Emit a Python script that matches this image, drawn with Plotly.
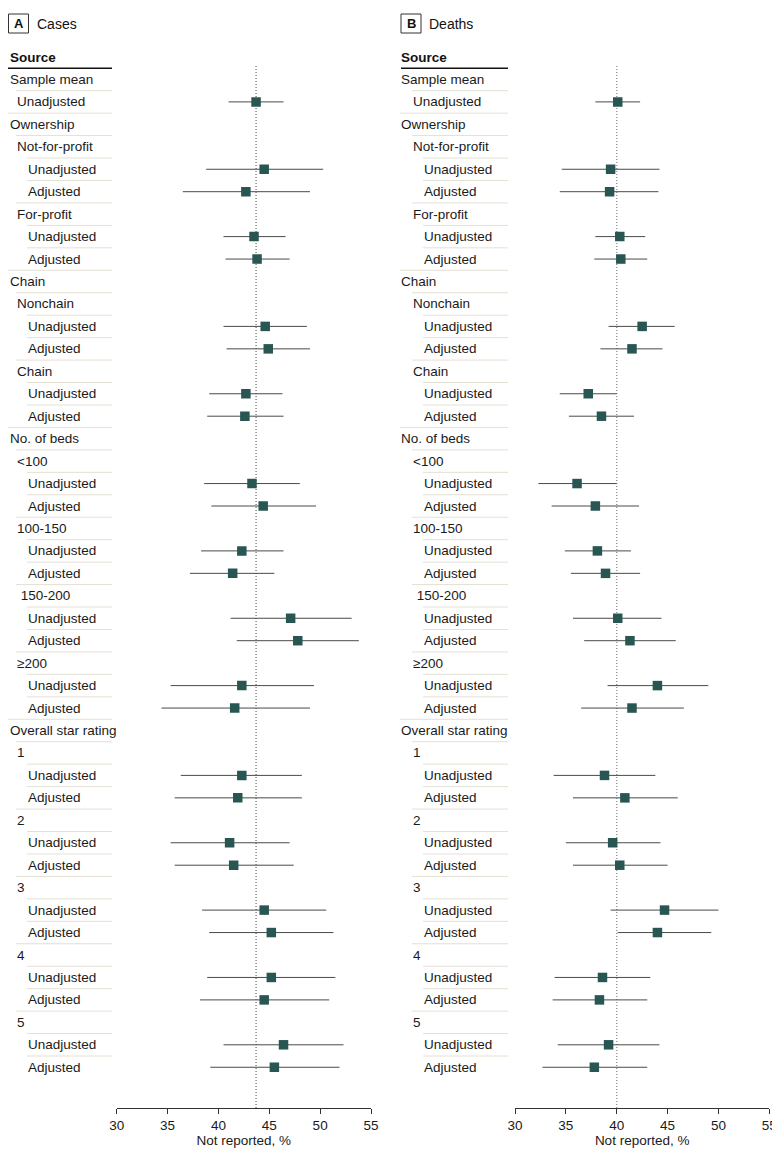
import plotly.graph_objects as go

# ---------------- data ----------------
row_labels = [
    "Sample mean", "Unadjusted",
    "Ownership", "Not-for-profit", "Unadjusted", "Adjusted", "For-profit", "Unadjusted", "Adjusted",
    "Chain", "Nonchain", "Unadjusted", "Adjusted", "Chain", "Unadjusted", "Adjusted",
    "No. of beds", "<100", "Unadjusted", "Adjusted", "100-150", "Unadjusted", "Adjusted",
    " 150-200", "Unadjusted", "Adjusted", "≥200", "Unadjusted", "Adjusted",
    "Overall star rating", "1", "Unadjusted", "Adjusted", "2", "Unadjusted", "Adjusted",
    "3", "Unadjusted", "Adjusted", "4", "Unadjusted", "Adjusted", "5", "Unadjusted", "Adjusted",
]
row_levels = [
    0, 1,
    0, 1, 2, 2, 1, 2, 2,
    0, 1, 2, 2, 1, 2, 2,
    0, 1, 2, 2, 1, 2, 2, 1, 2, 2, 1, 2, 2,
    0, 1, 2, 2, 1, 2, 2, 1, 2, 2, 1, 2, 2, 1, 2, 2,
]
N = None
cases_est = [N, 43.7, N, N, 44.5, 42.7, N, 43.5, 43.8, N, N, 44.6, 44.9, N, 42.7, 42.6,
             N, N, 43.3, 44.4, N, 42.3, 41.4, N, 47.1, 47.8, N, 42.3, 41.6,
             N, N, 42.3, 41.9, N, 41.1, 41.5, N, 44.5, 45.2, N, 45.2, 44.5, N, 46.4, 45.5]
cases_lo = [N, 41.0, N, N, 38.8, 36.5, N, 40.5, 40.7, N, N, 40.5, 40.8, N, 39.1, 38.9,
            N, N, 38.6, 39.3, N, 38.3, 37.2, N, 41.2, 41.8, N, 35.3, 34.4,
            N, N, 36.3, 35.7, N, 35.3, 35.7, N, 38.4, 39.1, N, 38.9, 38.2, N, 40.5, 39.2]
cases_hi = [N, 46.4, N, N, 50.3, 49.0, N, 46.6, 47.0, N, N, 48.7, 49.0, N, 46.3, 46.4,
            N, N, 48.0, 49.6, N, 46.4, 45.5, N, 53.1, 53.8, N, 49.4, 49.0,
            N, N, 48.2, 48.2, N, 47.0, 47.4, N, 50.6, 51.3, N, 51.5, 50.9, N, 52.3, 51.9]

deaths_est = [N, 40.1, N, N, 39.4, 39.3, N, 40.3, 40.4, N, N, 42.5, 41.5, N, 37.2, 38.5,
              N, N, 36.1, 37.9, N, 38.1, 38.9, N, 40.1, 41.3, N, 44.0, 41.5,
              N, N, 38.8, 40.8, N, 39.6, 40.3, N, 44.7, 44.0, N, 38.6, 38.3, N, 39.2, 37.8]
deaths_lo = [N, 37.9, N, N, 34.6, 34.4, N, 37.9, 37.8, N, N, 39.2, 38.4, N, 34.4, 35.3,
             N, N, 32.3, 33.6, N, 34.9, 35.5, N, 35.7, 36.8, N, 39.1, 36.5,
             N, N, 33.8, 35.7, N, 35.0, 35.7, N, 39.4, 40.1, N, 33.9, 33.7, N, 34.2, 32.7]
deaths_hi = [N, 42.3, N, N, 44.2, 44.1, N, 42.8, 43.0, N, N, 45.7, 44.5, N, 40.0, 41.7,
             N, N, 40.0, 42.2, N, 41.4, 42.3, N, 44.4, 45.8, N, 49.0, 46.6,
             N, N, 43.8, 46.0, N, 44.3, 45.0, N, 50.0, 49.3, N, 43.3, 43.0, N, 44.2, 43.0]

cases_ref = 43.7
deaths_ref = 40.0
x_ticks = [30, 35, 40, 45, 50, 55]
panel_letters = ["A", "B"]
panel_titles = ["Cases", "Deaths"]
axis_title = "Not reported, %"
header_text = "Source"

# ---------------- styling / geometry ----------------
PAGE_OFF = 8          # default body margin of the html page
W, H = 780 - PAGE_OFF, 1160 - 2 * PAGE_OFF
FONT = "Liberation Sans"
ROW0_PX = 57.0        # page y of the "Source" row
ROW_PX = 22.45
AXIS_PX = 1108.0      # page y of x axis line
MARKER = "#285753"
SEP = "#e3e0d3"
TXT_SHIFT = 2         # annotation inner padding


def ry(py):
    return (py - ROW0_PX) / ROW_PX


def px(x):
    return max((x - PAGE_OFF) / W, 0.0)


indent_px = {0: 5, 1: 17, 2: 28}
panels = [
    dict(off=0, est=cases_est, lo=cases_lo, hi=cases_hi, ref=cases_ref, xa="x",
         dom=[px(116.7), px(371.0)], refcolor="#444", refw=1, box=8.5),
    dict(off=396, est=deaths_est, lo=deaths_lo, hi=deaths_hi, ref=deaths_ref, xa="x2",
         dom=[px(515.0), px(769.3)], refcolor="#9a9a9a", refw=1.5, box=401),
]

fig = go.Figure()
annotations = []
shapes = []

for pi, p in enumerate(panels):
    ys = [i + 1 for i in range(len(row_labels))]
    xs, yy, ep, em = [], [], [], []
    for y, e, l, h in zip(ys, p["est"], p["lo"], p["hi"]):
        if e is None:
            continue
        xs.append(e)
        yy.append(y)
        ep.append(h - e)
        em.append(e - l)

    off = p["off"]
    # reference dotted line (drawn below data)
    shapes.append(dict(type="line", xref=p["xa"], yref="y", layer="below",
                       x0=p["ref"], x1=p["ref"], y0=ry(66), y1=ry(AXIS_PX),
                       line=dict(color=p["refcolor"], width=p["refw"], dash="1px,2px")))

    fig.add_trace(go.Scatter(
        x=xs, y=yy, xaxis=p["xa"], yaxis="y", mode="markers",
        marker=dict(symbol="square", size=9.5, color=MARKER, line=dict(width=0)),
        error_x=dict(type="data", symmetric=False, array=ep, arrayminus=em,
                     width=0, color="#4a4a4a", thickness=1),
        hoverinfo="skip", showlegend=False,
    ))

    # panel letter box + title
    bx = p["box"]
    shapes.append(dict(type="rect", xref="paper", yref="y",
                       x0=px(bx), x1=px(bx + 20), y0=ry(14), y1=ry(33),
                       line=dict(color="#333", width=1), fillcolor="rgba(0,0,0,0)"))
    annotations.append(dict(text="<b>" + panel_letters[pi] + "</b>", xref="paper", yref="y",
                            x=px(bx + 10), y=ry(23.5), xanchor="center", yanchor="middle",
                            showarrow=False, font=dict(family=FONT, size=13, color="#111")))
    annotations.append(dict(text=panel_titles[pi], xref="paper", yref="y",
                            x=px(bx + 28 - TXT_SHIFT), y=ry(23.5), xanchor="left", yanchor="middle",
                            showarrow=False, font=dict(family=FONT, size=14, color="#111")))
    # header
    annotations.append(dict(text="<b>" + header_text + "</b>", xref="paper", yref="y",
                            x=px(off + 5 - TXT_SHIFT), y=0, xanchor="left", yanchor="middle",
                            showarrow=False, font=dict(family=FONT, size=13.5, color="#111")))
    shapes.append(dict(type="line", xref="paper", yref="y",
                       x0=px(off + 5), x1=px(off + 112), y0=0.5, y1=0.5,
                       line=dict(color="#111", width=1.5)))
    # row labels + separators
    for i, (lab, lev) in enumerate(zip(row_labels, row_levels)):
        y = i + 1
        x_txt = off + indent_px[lev]
        annotations.append(dict(text=lab, xref="paper", yref="y",
                                x=px(x_txt - TXT_SHIFT), y=y, xanchor="left", yanchor="middle",
                                showarrow=False, font=dict(family=FONT, size=13.5, color="#1a1a1a")))
        if y >= 2:
            shapes.append(dict(type="line", xref="paper", yref="y",
                               x0=px(x_txt - 1), x1=px(off + 112), y0=y - 0.5, y1=y - 0.5,
                               line=dict(color=SEP, width=1)))

axis_common = dict(
    range=[30, 55], tickvals=x_ticks, ticks="outside", ticklen=5, tickwidth=1,
    tickcolor="#333", showline=True, linecolor="#333", linewidth=1,
    showgrid=False, zeroline=False, anchor="y", automargin=False,
    tickfont=dict(family=FONT, size=13.5, color="#1a1a1a"),
    title=dict(text=axis_title, font=dict(family=FONT, size=13.5, color="#1a1a1a"), standoff=3),
)

fig.update_layout(
    width=W, height=H, autosize=False,
    margin=dict(l=0, r=0, t=0, b=H - (AXIS_PX - PAGE_OFF), pad=0),
    paper_bgcolor="white", plot_bgcolor="white",
    showlegend=False,
    xaxis=dict(domain=panels[0]["dom"], **axis_common),
    xaxis2=dict(domain=panels[1]["dom"], **axis_common),
    yaxis=dict(range=[ry(AXIS_PX), ry(PAGE_OFF)], visible=False, fixedrange=True, automargin=False),
    annotations=annotations,
    shapes=shapes,
)

fig.write_html("out.html")
